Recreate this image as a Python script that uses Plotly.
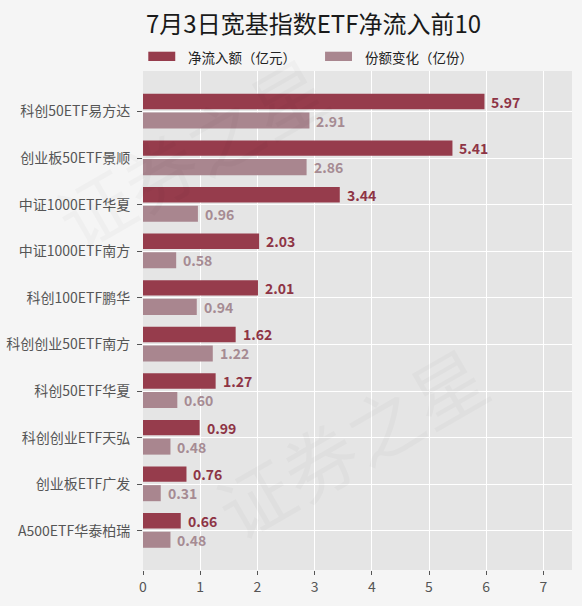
import plotly.graph_objects as go

categories = ["科创50ETF易方达", "创业板50ETF景顺", "中证1000ETF华夏", "中证1000ETF南方",
              "科创100ETF鹏华", "科创创业50ETF南方", "科创50ETF华夏", "科创创业ETF天弘",
              "创业板ETF广发", "A500ETF华泰柏瑞"]
net_inflow = [5.97, 5.41, 3.44, 2.03, 2.01, 1.62, 1.27, 0.99, 0.76, 0.66]
share_change = [2.91, 2.86, 0.96, 0.58, 0.94, 1.22, 0.60, 0.48, 0.31, 0.48]
series_names = ["净流入额（亿元）", "份额变化（亿份）"]
title_text = "7月3日宽基指数ETF净流入前10"
watermark_text = "证券之星"

DARK = "#963c4c"
LIGHT = "#a9868f"
DARK_TXT = "#8e3445"
LIGHT_TXT = "#a68b93"
FONT = "Noto Sans CJK SC"

# plot-area pixel geometry helpers for paper-coordinate placement
PL, PR, PT, PB = 142.7, 572.3, 71.0, 570.0
def px(x):
    return (x - PL) / (PR - PL)
def py(y):
    return (PB - y) / (PB - PT)

fig = go.Figure()
fig.add_trace(go.Bar(y=categories, x=net_inflow, orientation="h", name=series_names[0],
                     marker=dict(color=DARK, line=dict(width=0)),
                     offset=-0.38, width=0.33, showlegend=False))
fig.add_trace(go.Bar(y=categories, x=share_change, orientation="h", name=series_names[1],
                     marker=dict(color=LIGHT, line=dict(width=0)),
                     offset=0.02, width=0.345, showlegend=False))

annotations = []

# faint watermark
for (wx, wy) in [(190, 150), (350, 440)]:
    annotations.append(dict(x=px(wx), y=py(wy), xref="paper", yref="paper", text=watermark_text,
                            showarrow=False, textangle=-30, xanchor="center", yanchor="middle",
                            font=dict(family=FONT, size=74, color="rgba(0,0,0,0.025)")))

for c, v in zip(categories, net_inflow):
    annotations.append(dict(x=v, y=c, xref="x", yref="y", text=f"<b>{v:.2f}</b>",
                            showarrow=False, xanchor="left", yanchor="middle",
                            xshift=5, yshift=10,
                            font=dict(family=FONT, size=14, color=DARK_TXT)))
for c, v in zip(categories, share_change):
    annotations.append(dict(x=v, y=c, xref="x", yref="y", text=f"<b>{v:.2f}</b>",
                            showarrow=False, xanchor="left", yanchor="middle",
                            xshift=5, yshift=-9,
                            font=dict(family=FONT, size=14, color=LIGHT_TXT)))

shapes = [
    dict(type="rect", xref="paper", yref="paper", x0=px(148), x1=px(175), y0=py(61), y1=py(51.7),
         fillcolor=DARK, line=dict(width=0)),
    dict(type="rect", xref="paper", yref="paper", x0=px(325), x1=px(352), y0=py(61), y1=py(51.7),
         fillcolor=LIGHT, line=dict(width=0)),
]
annotations.append(dict(x=px(186), y=py(57), xref="paper", yref="paper", text=series_names[0],
                        showarrow=False, xanchor="left", yanchor="middle",
                        font=dict(family=FONT, size=13.5, color="#222222")))
annotations.append(dict(x=px(363), y=py(57), xref="paper", yref="paper", text=series_names[1],
                        showarrow=False, xanchor="left", yanchor="middle",
                        font=dict(family=FONT, size=13.5, color="#222222")))

# title
annotations.append(dict(x=px(313), y=py(22), xref="paper", yref="paper",
                        text=title_text, showarrow=False, xanchor="center", yanchor="middle",
                        font=dict(family=FONT, size=24, color="#1a1a1a")))

fig.update_layout(
    width=582, height=606,
    margin=dict(l=143, r=10, t=71, b=36, pad=0),
    paper_bgcolor="#f5f5f5",
    plot_bgcolor="#e5e5e5",
    barmode="overlay",
    font=dict(family=FONT, size=14, color="#555555"),
    annotations=annotations,
    shapes=shapes,
    showlegend=False,
    xaxis=dict(range=[0, 7.5], dtick=1, tick0=0, showgrid=True, gridcolor="white", gridwidth=1,
               zeroline=False, ticks="outside", ticklen=4, tickcolor="#555555",
               tickfont=dict(family=FONT, size=14, color="#555555"), showline=False,
               automargin=False),
    yaxis=dict(type="category", categoryorder="array", categoryarray=categories,
               range=[9.842, -0.871], autorange=False, showgrid=True, gridcolor="white",
               gridwidth=1, ticks="outside", ticklen=5, tickcolor="#555555",
               tickfont=dict(family=FONT, size=14, color="#555555"), showline=False,
               zeroline=False, automargin=False, ticklabelstandoff=4),
)

fig.write_html("out.html")
